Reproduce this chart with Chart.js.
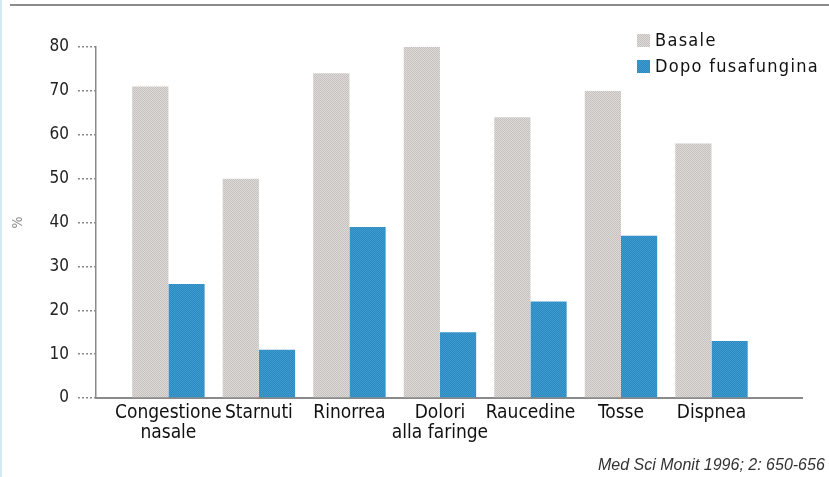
<!DOCTYPE html>
<html>
<head>
<meta charset="utf-8">
<script src="https://cdn.jsdelivr.net/npm/chart.js@4.4.0/dist/chart.umd.min.js"></script>
<style>
  html, body { margin: 0; padding: 0; background: #fff; }
  #wrap { position: relative; width: 829px; height: 477px; }
</style>
</head>
<body>
<div id="wrap"><canvas id="chart" width="829" height="477"></canvas></div>
<script>
// sintomi e percentuali (basale vs dopo fusafungina)
const SINTOMI = [['Congestione', 'nasale'], 'Starnuti', 'Rinorrea', ['Dolori', 'alla faringe'], 'Raucedine', 'Tosse', 'Dispnea'];
const BASALE = [71, 50, 74, 80, 64, 70, 58];
const DOPO = [26, 11, 39, 15, 22, 37, 13];
const SERIE = ['Basale', 'Dopo fusafungina'];
const Y_MAX = 80;
const Y_STEP = 10;
const CITAZIONE = 'Med Sci Monit 1996; 2: 650-656';

const FONT = "'DejaVu Sans Condensed', 'Liberation Sans Narrow', Arial, sans-serif";

// piccoli motivi a puntini per riempire le barre
function motivo(base, punti){
  const c = document.createElement('canvas');
  c.width = 4; c.height = 4;
  const g = c.getContext('2d');
  g.fillStyle = base; g.fillRect(0, 0, 4, 4);
  g.fillStyle = punti;
  for(let y=0; y<4; y++) for(let x=0; x<4; x++){
    if((x+y)%2===0) g.fillRect(x, y, 1, 1);
  }
  return document.getElementById('chart').getContext('2d').createPattern(c, 'repeat');
}
const grigio = motivo('#dedad7', '#c6c1be');
const blu = motivo('#2c8ac2', '#3f9bcd');

// cornice, legenda e fonte
const decorazioni = {
  id: 'decorazioni',
  beforeDraw(chart){
    const ctx = chart.ctx;
    ctx.save();
    ctx.fillStyle = '#d4e8f4';
    ctx.fillRect(0, 0, 2, chart.height);
    ctx.fillStyle = '#8c8c8c';
    ctx.fillRect(10, 4, chart.width - 10, 2);
    ctx.restore();
  },
  afterDraw(chart){
    const ctx = chart.ctx;
    const a = chart.chartArea;
    ctx.save();
    const lx = a.right - 165, ly = a.top - 13;
    chart.data.datasets.forEach((ds, i) => {
      const y = ly + i * 26;
      ctx.fillStyle = ds.backgroundColor;
      ctx.fillRect(lx, y, 13, 13);
      ctx.fillStyle = '#111';
      ctx.font = '18px ' + FONT;
      ctx.letterSpacing = '1.3px';
      ctx.textBaseline = 'middle';
      ctx.fillText(ds.label, lx + 18, y + 7);
    });
    ctx.letterSpacing = '0px';
    ctx.fillStyle = '#333';
    ctx.font = 'italic 16px "Liberation Sans", Arial, sans-serif';
    ctx.textBaseline = 'alphabetic';
    ctx.fillText(CITAZIONE, 598, 470);
    ctx.restore();
  }
};

new Chart(document.getElementById('chart'), {
  type: 'bar',
  data: {
    datasets: [
      { label: SERIE[0], data: BASALE.map((v, i) => ({ x: i, y: v })), backgroundColor: grigio, borderWidth: 0 },
      { label: SERIE[1], data: DOPO.map((v, i) => ({ x: i, y: v })), backgroundColor: blu, borderWidth: 0 }
    ]
  },
  options: {
    responsive: false,
    animation: false,
    categoryPercentage: 0.8,
    barPercentage: 1.0,
    layout: { padding: { top: 47, right: 27, left: 0, bottom: 0 } },
    plugins: { legend: { display: false }, tooltip: { enabled: false } },
    scales: {
      x: {
        type: 'linear',
        min: -0.8,
        max: 7.0,
        offset: false,
        bounds: 'data',
        afterBuildTicks: s => { s.ticks = SINTOMI.map((_, i) => ({ value: i })); },
        afterFit: s => { s.height = 79; },
        ticks: {
          autoSkip: false, maxRotation: 0, padding: -3,
          color: '#111', font: { family: FONT, size: 19, lineHeight: 1.05 },
          callback: v => SINTOMI[v]
        },
        grid: { display: false },
        border: { color: '#8a8a8a', width: 2, dash: [2, 2] }
      },
      y: {
        min: 0,
        max: Y_MAX,
        afterFit: s => { s.width = 96; },
        ticks: { stepSize: Y_STEP, padding: 9, color: '#222', font: { family: FONT, size: 17 } },
        grid: { drawOnChartArea: false, drawTicks: true, tickLength: 18, color: '#8a8a8a', lineWidth: 1.5, tickBorderDash: [2, 2] },
        border: { color: '#8a8a8a', width: 1.5, dash: [2, 1] },
        title: { display: true, text: '%', color: '#888', font: { family: FONT, size: 14 }, padding: { top: 10, bottom: 0 } }
      }
    }
  },
  plugins: [decorazioni]
});
</script>
</body>
</html>
